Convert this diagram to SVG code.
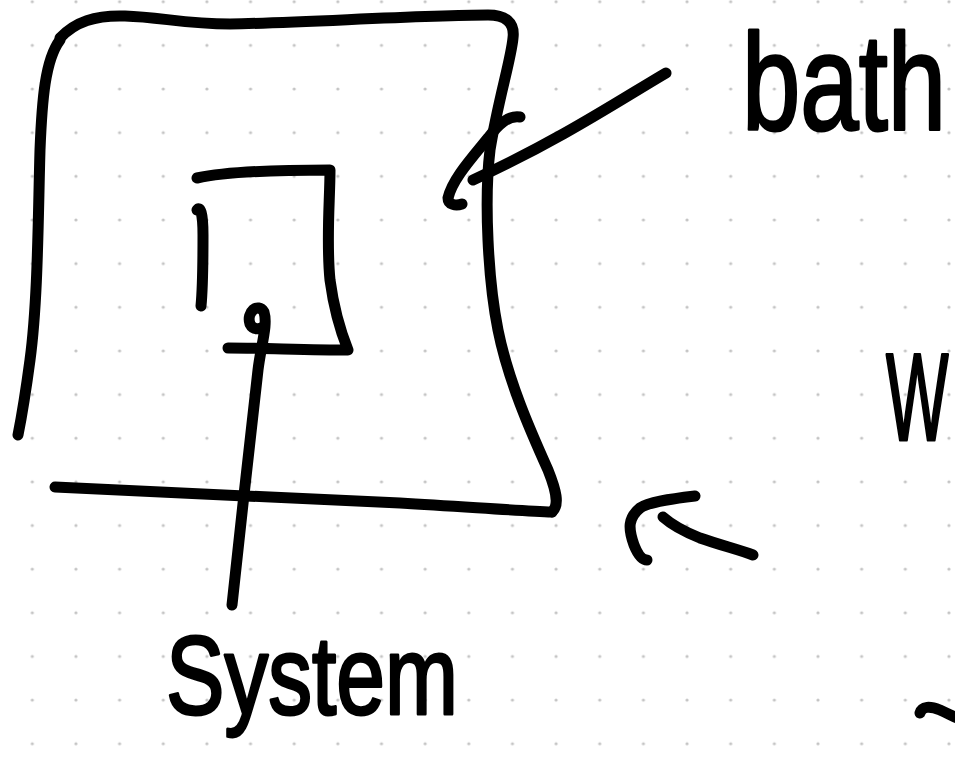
<svg xmlns="http://www.w3.org/2000/svg" width="955" height="760" viewBox="0 0 955 760">
  <defs>
    <pattern id="dots" x="32.3" y="1.7" width="43.65" height="43.65" patternUnits="userSpaceOnUse">
      <circle cx="0" cy="0" r="1.6" fill="#c4c4c4"/>
      <circle cx="43.65" cy="0" r="1.6" fill="#c4c4c4"/>
      <circle cx="0" cy="43.65" r="1.6" fill="#c4c4c4"/>
      <circle cx="43.65" cy="43.65" r="1.6" fill="#c4c4c4"/>
    </pattern>
  </defs>
  <style>
    .ink { fill: none; stroke: #000; stroke-width: 11; stroke-linecap: round; stroke-linejoin: round; }
    .hand { font-family: "Liberation Sans", "DejaVu Sans", sans-serif; fill: #000; stroke: #000; stroke-width: 3; stroke-linejoin: round; }
  </style>
  <rect width="955" height="760" fill="#fff"/>
  <rect width="955" height="760" fill="url(#dots)"/>

  <g id="bath">
    <path class="ink" d="M60,38 C75,22 95,15 125,16 C160,17 185,24 230,24 C300,23 420,15 488,15 C505,15 515,22 513,38 C511,60 498,100 490,150 C484,200 488,280 498,330 C508,380 530,430 548,470 C556,490 560,505 552,512"/>
    <path class="ink" d="M60,40 C45,60 42,100 40,150 C38,220 38,300 30,360 C26,390 22,415 18,435"/>
    <path class="ink" d="M55,487 C150,492 300,498 400,503 C470,507 520,511 552,512"/>
  </g>

  <g id="system">
    <path class="ink" d="M197,178 C230,171 290,170 330,170 C330,200 326,240 330,280 C334,310 342,335 348,350 C310,350 260,348 228,348"/>
    <path class="ink" d="M197,210 C200,206 203,212 203,235 C203,260 203,285 201,306"/>
  </g>

  <g id="connectors">
    <path class="ink" d="M232,605 C240,530 250,440 258,370 C261,345 268,325 264,312 C258,302 246,312 250,324 C253,330 260,330 264,326"/>
    <path class="ink" d="M666,73 C620,100 560,140 473,180"/>
    <path class="ink" d="M520,117 C508,115 498,125 488,138 C470,160 452,180 448,198 C448,205 456,206 462,204"/>
    <path class="ink" d="M695,496 C670,499 648,502 640,508 C628,518 628,528 634,545 C638,555 642,560 647,560"/>
    <path class="ink" d="M663,517 C672,525 685,532 700,538 C720,545 740,550 753,555"/>
    <path class="ink" d="M920,713 C922,706 930,706 940,710 C947,713 952,716 957,718"/>
  </g>

  <g id="labels">
    <text class="hand" transform="translate(742,130) scale(0.76,1)" font-size="138">bath</text>
    <text class="hand" transform="translate(886,440) scale(0.53,1)" font-size="125">W</text>
    <text class="hand" x="166" y="714" font-size="112" textLength="292" lengthAdjust="spacingAndGlyphs">System</text>
  </g>
</svg>
